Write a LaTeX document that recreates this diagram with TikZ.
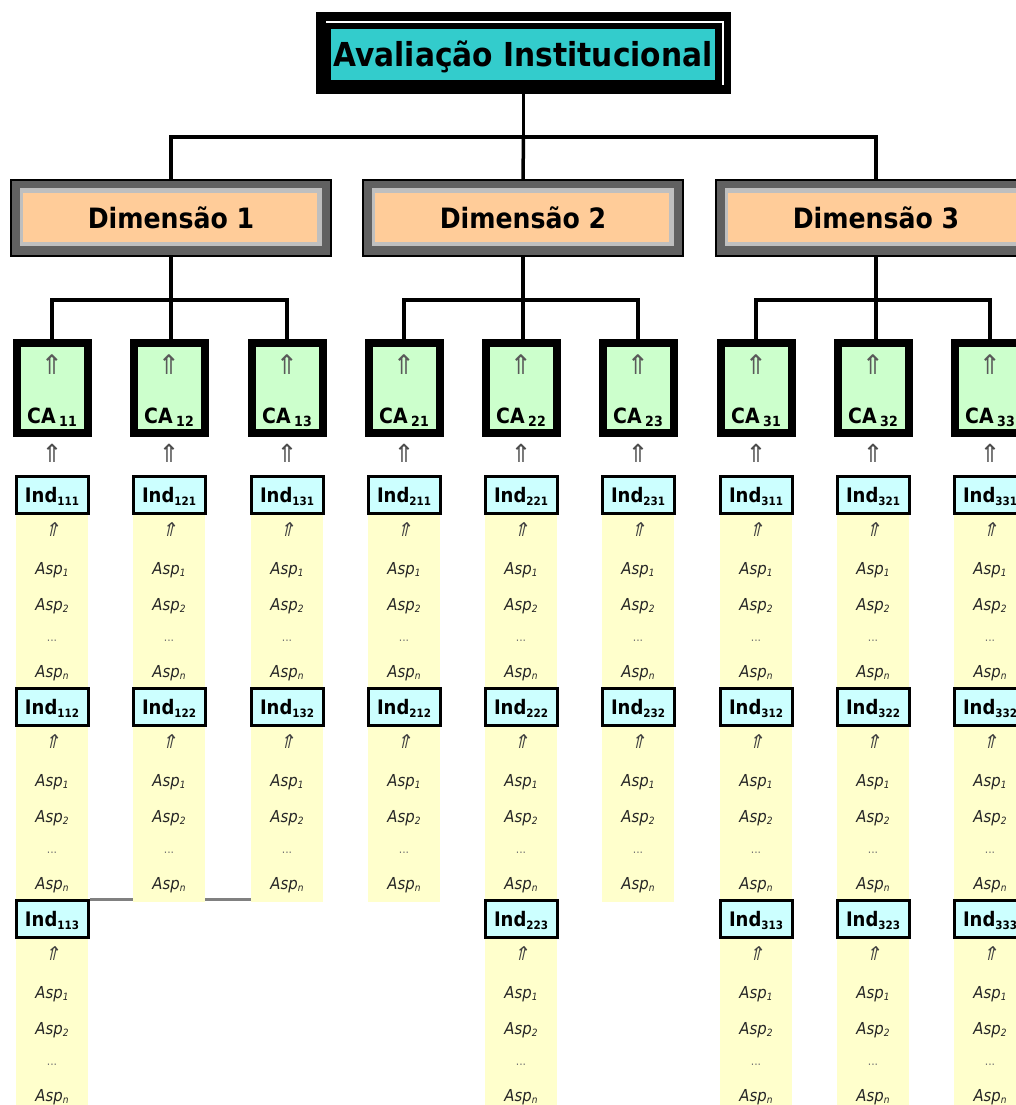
\documentclass[tikz,border=0pt]{standalone}
\usepackage{fontspec}
\setmainfont{DejaVu Sans}[FakeStretch=0.9]
\newfontfamily\arrowfont{DejaVu Sans}
\newfontfamily\arrowslant{DejaVu Sans}[FakeSlant=0.22]
\usetikzlibrary{calc}

\definecolor{titlecyan}{HTML}{33CCCC}
\definecolor{dimpeach}{HTML}{FFCC99}
\definecolor{cagreen}{HTML}{CCFFCC}
\definecolor{indcyan}{HTML}{CCFFFF}
\definecolor{aspyellow}{HTML}{FFFFCC}

% lowered index digits
\newcommand{\casub}[1]{\raisebox{-3.5pt}{\fontsize{14}{14}\selectfont #1}}
\newcommand{\indsub}[1]{\raisebox{-3pt}{\fontsize{11.5}{11.5}\selectfont #1}}
\newcommand{\aspsub}[1]{\raisebox{-2.5pt}{\fontsize{10}{10}\selectfont #1}}

% bevelled dimension panel: name, x centre, label
\newcommand{\dimpanel}[3]{%
  \node[dimframe] (#1) at (#2,218) {};
  \fill[black!62] ($(#1.north west)+(2,2)$) rectangle ($(#1.south east)+(-2,-2)$);
  \fill[black!25] ($(#1.north west)+(10,9)$) rectangle ($(#1.south east)+(-10,-11)$);
  \fill[dimpeach] ($(#1.north west)+(13,14)$) rectangle ($(#1.south east)+(-15,-15)$);
  \node[dimtext, anchor=base] (#1-label) at (#2,228) {#3};
}

\begin{document}
\begin{tikzpicture}[x=1pt,y=-1pt,
  link/.style={line width=3.5pt, draw=black},
  stray/.style={line width=3pt, draw=black!50},
  dimframe/.style={fill=black, minimum width=322pt, minimum height=78pt, inner sep=0pt, outer sep=0pt},
  dimtext/.style={inner sep=0pt, font=\bfseries\fontsize{28}{28}\selectfont},
  cabox/.style={draw=black, fill=cagreen, line width=8pt, minimum width=71pt, minimum height=90pt, inner sep=0pt},
  calabel/.style={inner sep=0pt, font=\bfseries\fontsize{21}{21}\selectfont},
  caarrow/.style={inner sep=0pt, text=black!65, font=\arrowfont\fontsize{27}{27}\selectfont},
  linkarrow/.style={inner sep=0pt, text=black!70, font=\arrowfont\fontsize{25}{25}\selectfont},
  strip/.style={fill=aspyellow, draw=none, minimum width=72pt, inner sep=0pt, outer sep=0pt},
  indbox/.style={draw=black, fill=indcyan, line width=3pt, minimum width=72pt, minimum height=37pt, inner sep=0pt},
  indlabel/.style={inner sep=0pt, font=\bfseries\fontsize{20}{20}\selectfont},
  asparrow/.style={inner sep=0pt, text=black!75, font=\arrowslant\fontsize{19}{19}\selectfont},
  asp/.style={inner sep=0pt, text=black!85, font=\itshape\fontsize{16.5}{16.5}\selectfont},
  aspdots/.style={inner sep=0pt, text=black!55, font=\fontsize{12}{12}\selectfont}]

\useasboundingbox (0,0) rectangle (1016,1105);
\clip (0,0) rectangle (1016,1105);

% title frame
\node[fill=black, minimum width=415pt, minimum height=82pt, inner sep=0pt, outer sep=0pt] (title) at (523.5,53) {};
\draw[white, line width=1.2pt] ($(title.north west)+(10,10)$) -- ($(title.north east)+(-8,10)$) -- ($(title.south east)+(-8,-9)$);
\node[fill=titlecyan, minimum width=384pt, minimum height=51pt, inner sep=0pt] (titlepanel) at (523,54.5) {};
\node[anchor=base, inner sep=0pt, font=\bfseries\fontsize{33}{33}\selectfont] (titletext) at (523,67) {Avaliação Institucional};

% dimensions
\dimpanel{dim1}{171}{Dimensão 1}
\dimpanel{dim2}{523}{Dimensão 2}
\dimpanel{dim3}{876}{Dimensão 3}

% columns: x centre / dimension / component / number of indicators
\foreach \cx/\d/\k/\n [count=\i] in {52/1/1/3,169/1/2/2,287/1/3/2,404/2/1/2,521/2/2/3,638/2/3/2,756/3/1/3,873/3/2/3,990/3/3/3}{
  \node[cabox] (ca\i) at (\cx,388) {};
  \node[caarrow] (caup\i) at (\cx,365) {⇑};
  \node[calabel, anchor=base] (calab\i) at (\cx,423) {CA\,\casub{\d\k}};
  \node[linkarrow] (link\i) at (\cx,453) {⇑};
  \pgfmathsetmacro{\stripH}{\n==3 ? 615 : 407}
  \node[strip, minimum height=\stripH pt, anchor=north] (strip\i) at (\cx,495) {};
  \foreach \r in {1,...,\n}{
    \pgfmathsetmacro{\cy}{495+212*(\r-1)}
    \node[indbox] (ind\i-\r) at (\cx,\cy) {};
    \node[indlabel, anchor=base] (indlab\i-\r) at (\cx,\cy+7) {Ind\indsub{\d\k\r}};
    \node[asparrow] (aup\i-\r) at (\cx,\cy+35) {⇑};
    \node[asp, anchor=base] (asa\i-\r) at (\cx,\cy+79) {Asp\aspsub{1}};
    \node[asp, anchor=base] (asb\i-\r) at (\cx,\cy+115) {Asp\aspsub{2}};
    \node[aspdots, anchor=base] (asd\i-\r) at (\cx,\cy+146) {...};
    \node[asp, anchor=base] (asn\i-\r) at (\cx,\cy+182) {Asp\aspsub{n}};
  }
}

% hierarchy connectors
\draw[link] (title.south) -- ++(0,43) coordinate (tophub);
\draw[link] (dim1.north) |- (tophub) -| (dim3.north);
\draw[link] (tophub) -- (dim2.north);

\draw[link] (dim1.south) -- (dim1.south |- ca2.north);
\draw[link] (ca1.north) |- ($(dim1.south)+(0,43)$) -| (ca3.north);
\draw[link] (dim2.south) -- (dim2.south |- ca5.north);
\draw[link] (ca4.north) |- ($(dim2.south)+(0,43)$) -| (ca6.north);
\draw[link] (dim3.south) -- (dim3.south |- ca8.north);
\draw[link] (ca7.north) |- ($(dim3.south)+(0,43)$) -| (ca9.north);

% grey ties at the foot of the short columns
\draw[stray] (ind1-3.north east) -- (ind1-3.north east -| strip2.south west);
\draw[stray] (ind1-3.north east -| strip2.south east) -- (ind1-3.north east -| strip3.south west);
\end{tikzpicture}
\end{document}
